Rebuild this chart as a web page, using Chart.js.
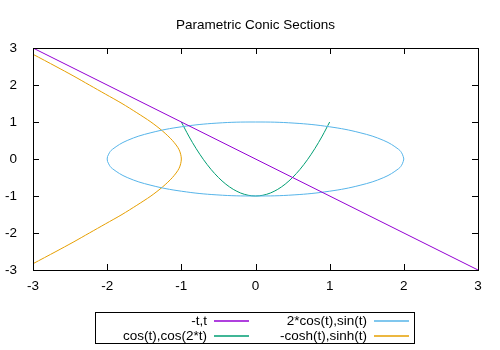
<!DOCTYPE html>
<html>
<head>
    <title>Parametric Conic Sections</title>
    <meta charset="utf-8">
    <script src="https://cdn.jsdelivr.net/npm/chart.js@4.4.0/dist/chart.umd.min.js"></script>
    <style>
        body { margin: 0; background: #fff; }
        #wrap { position: relative; width: 500px; height: 350px; }
    </style>
</head>
<body>
    <div id="wrap"><canvas id="conics"></canvas></div>

    <script>
        // values
        const tickValues = [-3, -2, -1, 0, 1, 2, 3];
        const seriesLabels = ['-t,t', '2*cos(t),sin(t)', 'cos(t),cos(2*t)', '-cosh(t),sinh(t)'];

        const lineX = [-3, 3];
        const lineY = [3, -3];

        const ellipseX = [2, 1.98, 1.93, 1.73, 1.41, 1, 0.52, 0, -0.52, -1, -1.41, -1.73, -1.93, -1.98, -2,
                          -1.98, -1.93, -1.73, -1.41, -1, -0.52, 0, 0.52, 1, 1.41, 1.73, 1.93, 1.98, 2];
        const ellipseY = [0, 0.13, 0.26, 0.5, 0.71, 0.87, 0.97, 1, 0.97, 0.87, 0.71, 0.5, 0.26, 0.13, 0,
                          -0.13, -0.26, -0.5, -0.71, -0.87, -0.97, -1, -0.97, -0.87, -0.71, -0.5, -0.26, -0.13, 0];

        const parabolaX = [-1, -0.9, -0.8, -0.7, -0.6, -0.5, -0.4, -0.3, -0.2, -0.1, 0,
                           0.1, 0.2, 0.3, 0.4, 0.5, 0.6, 0.7, 0.8, 0.9, 1];
        const parabolaY = [1, 0.62, 0.28, -0.02, -0.28, -0.5, -0.68, -0.82, -0.92, -0.98, -1,
                           -0.98, -0.92, -0.82, -0.68, -0.5, -0.28, -0.02, 0.28, 0.62, 1];

        const hyperX = [-3, -2.69, -2.46, -2.24, -2.02, -1.8, -1.6, -1.41, -1.25, -1.12, -1.03, -1,
                        -1.03, -1.12, -1.25, -1.41, -1.6, -1.8, -2.02, -2.24, -2.46, -2.69, -3];
        const hyperY = [-2.83, -2.5, -2.25, -2, -1.75, -1.5, -1.25, -1, -0.75, -0.5, -0.25, 0,
                        0.25, 0.5, 0.75, 1, 1.25, 1.5, 1.75, 2, 2.25, 2.5, 2.83];

        const colors = ['#9400d3', '#56b4e9', '#009e73', '#e69f00'];

        function pts(xs, ys) {
            return xs.map((x, i) => ({x: x, y: ys[i]}));
        }

        const FAMILY = '"Liberation Sans", Arial, sans-serif';
        const FONT = '13.5px ' + FAMILY;

        // border, mirrored inward ticks, title and the boxed legend like gnuplot
        const gnuplotFrame = {
            id: 'gnuplotFrame',
            afterDraw(chart) {
                const ctx = chart.ctx;
                const a = chart.chartArea;
                const xs = chart.scales.x, ys = chart.scales.y;
                ctx.save();
                ctx.strokeStyle = '#000';
                ctx.lineWidth = 1;
                ctx.beginPath();
                tickValues.forEach(v => {
                    const px = Math.round(xs.getPixelForValue(v)) + 0.5;
                    ctx.moveTo(px, a.bottom); ctx.lineTo(px, a.bottom - 6);
                    ctx.moveTo(px, a.top); ctx.lineTo(px, a.top + 6);
                    const py = Math.round(ys.getPixelForValue(v)) + 0.5;
                    ctx.moveTo(a.left, py); ctx.lineTo(a.left + 6, py);
                    ctx.moveTo(a.right, py); ctx.lineTo(a.right - 6, py);
                });
                ctx.stroke();
                ctx.strokeRect(Math.round(a.left) + 0.5, Math.round(a.top) + 0.5,
                               Math.round(a.right - a.left), Math.round(a.bottom - a.top));

                ctx.fillStyle = '#000';
                ctx.font = FONT;
                ctx.textAlign = 'center';
                ctx.textBaseline = 'middle';
                ctx.fillText('Parametric Conic Sections', (a.left + a.right) / 2, 25);

                // legend box
                ctx.strokeRect(95.5, 312.5, 319, 31);
                const cells = [[0, 249, 321], [1, 409, 321], [2, 249, 336], [3, 409, 336]];
                ctx.textAlign = 'right';
                cells.forEach(([i, right, y]) => {
                    ctx.fillStyle = '#000';
                    ctx.fillText(seriesLabels[i], right - 42, y);
                    ctx.strokeStyle = colors[i];
                    ctx.lineWidth = 1.5;
                    ctx.beginPath();
                    ctx.moveTo(right - 35, y);
                    ctx.lineTo(right, y);
                    ctx.stroke();
                });
                ctx.restore();
            }
        };

        const axis = {
            type: 'linear',
            min: -3,
            max: 3,
            grid: { display: false },
            border: { display: false },
            ticks: {
                stepSize: 1,
                color: '#000',
                font: { family: FAMILY, size: 13.5 }
            }
        };

        new Chart(document.getElementById('conics'), {
            type: 'scatter',
            data: {
                datasets: [
                    {label: seriesLabels[0], data: pts(lineX, lineY)},
                    {label: seriesLabels[1], data: pts(ellipseX, ellipseY), tension: 0.4},
                    {label: seriesLabels[2], data: pts(parabolaX, parabolaY), tension: 0.3},
                    {label: seriesLabels[3], data: pts(hyperX, hyperY), tension: 0.3}
                ].map((d, i) => Object.assign({
                    showLine: true,
                    borderColor: colors[i],
                    backgroundColor: colors[i],
                    borderWidth: 1,
                    pointRadius: 0,
                    fill: false
                }, d))
            },
            options: {
                responsive: true,
                maintainAspectRatio: false,
                animation: false,
                layout: { padding: { left: 0, top: 48, right: 22, bottom: 0 } },
                plugins: {
                    legend: { display: false },
                    tooltip: { enabled: false }
                },
                scales: {
                    x: Object.assign({}, axis, {
                        ticks: Object.assign({}, axis.ticks, { padding: 0 }),
                        afterFit(s) { s.height = 80; }
                    }),
                    y: Object.assign({}, axis, {
                        ticks: Object.assign({}, axis.ticks, { padding: 8 }),
                        afterFit(s) { s.width = 33; }
                    })
                }
            },
            plugins: [gnuplotFrame]
        });
    </script>
</body>
</html>
